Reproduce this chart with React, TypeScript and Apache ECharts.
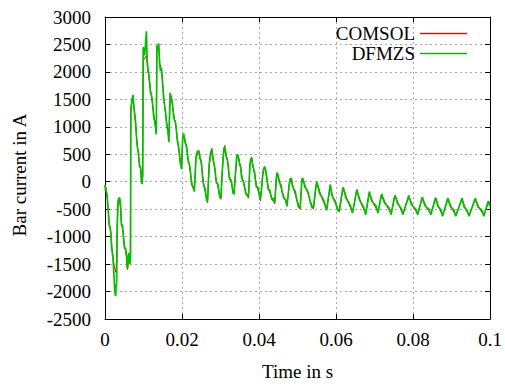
import React, { useEffect, useRef } from "react";
import * as echarts from "echarts";

// time in milliseconds
const timeMs = [
  0, 0.26, 0.85, 1.11, 1.55, 1.8, 2.32, 2.76, 3.02, 3.17,
  3.43, 3.61, 4.05, 4.3, 4.72, 5.15, 5.59, 5.85, 6.26, 6.57,
  6.7, 7.29, 7.73, 8.17, 8.58, 8.84, 9.2, 9.46, 9.79, 9.92,
  10.75, 11.16, 11.6, 12.04, 12.45, 12.89, 13.32, 13.48, 13.92, 14.18,
  14.61, 15.03, 15.46, 15.9, 16.31, 16.57, 16.93, 17.19, 17.6, 18.04,
  18.48, 18.89, 19.33, 19.77, 19.92, 20.18, 20.62, 21.06, 21.47, 21.91,
  22.35, 22.76, 23.2, 23.63, 24.36, 24.9, 25.31, 25.77, 26.19, 26.62,
  27.06, 27.73, 28.35, 28.79, 29.2, 29.64, 30.08, 30.67, 31.08, 31.78,
  32.22, 32.65, 33.07, 33.51, 34.2, 34.59, 35.23, 35.62, 36.24, 36.78,
  37.24, 37.63, 38.07, 38.66, 39.1, 39.51, 40.13, 40.39, 40.98, 41.49,
  42.09, 42.53, 42.96, 43.56, 44.07, 44.51, 44.92, 45.54, 45.95, 46.8,
  47.24, 47.86, 48.38, 48.97, 49.82, 50.67, 51.1, 51.55, 52.4, 53.27,
  54.12, 54.82, 55.23, 56.26, 57.55, 58.42, 58.58, 59.28, 60.13, 60.82,
  61.68, 62.04, 63.14, 64.25, 65.28, 65.54, 66.57, 67.7, 68.56, 68.81,
  69.85, 70.88, 71.73, 72.04, 73.2, 74.3, 75.18, 75.52, 76.55, 77.32,
  78.74, 79.05, 80.15, 81.19, 82.29, 82.6, 83.63, 84.61, 85.72, 86.06,
  86.86, 87.63, 88.92, 89.25, 90.21, 91.06, 92.6, 92.91, 93.69, 94.51,
  96.03, 96.39, 97.42, 98.35, 99.48, 99.92,
];

const comsol = [
  -70, -100, -500, -770, -970, -1190, -1500, -1650, -1500, -830,
  -340, -290, -470, -770, -950, -1190, -1370, -1600, -1310, -1400,
  1330, 1560, 1200, 840, 550, 380, 250, 20, 100, 2200,
  2300, 2000, 1810, 1560, 1360, 1090, 880, 2470, 2500, 2170,
  2050, 1740, 1380, 1150, 920, 740, 1600, 1560, 1330, 1150,
  970, 740, 480, 300, 280, 790, 820, 660, 480, 300,
  70, -110, -160, 430, 570, 380, 130, -110, -230, -380,
  300, 610, 300, 70, -50, -200, -320, 430, 660, 380,
  130, 20, -110, -230, 430, 480, 250, 70, -110, -230,
  -300, 300, 450, 200, 20, -110, -250, -350, 130, 280,
  20, -140, -230, -320, -400, 70, 130, -70, -160, -340,
  -430, -50, 70, -140, -320, -500, 20, 20, -160, -340,
  -500, -70, -50, -290, -500, -110, -90, -320, -430, -550,
  -170, -140, -380, -550, -200, -170, -410, -580, -230, -230,
  -420, -550, -270, -260, -450, -580, -290, -280, -470, -580,
  -300, -290, -480, -580, -320, -320, -490, -580, -330, -330,
  -500, -610, -340, -340, -510, -610, -340, -350, -510, -610,
  -340, -350, -510, -610, -380, -430,
];

// DFMZS sampled at the same instants as COMSOL ...
const dfmzs = [
  -60, -150, -520, -800, -950, -1250, -1700, -2085, -1850, -800,
  -320, -300, -440, -800, -930, -1220, -1350, -1580, -1300, -1450,
  1300, 1580, 1230, 820, 580, 360, 270, 0, 120, 2450,
  2740, 2050, 1780, 1590, 1330, 1110, 860, 2480, 2520, 2150,
  2080, 1710, 1400, 1120, 950, 720, 1620, 1540, 1360, 1120,
  1000, 710, 500, 280, 300, 810, 800, 680, 450, 330,
  50, -90, -180, 450, 550, 400, 100, -90, -250, -360,
  320, 590, 320, 40, -30, -220, -300, 450, 640, 400,
  100, 40, -130, -210, 450, 460, 270, 40, -90, -250,
  -280, 320, 430, 220, 0, -90, -270, -330, 150, 260,
  40, -160, -210, -340, -380, 90, 110, -50, -180, -320,
  -450, -30, 50, -120, -340, -480, 40, 0, -140, -360,
  -480, -50, -70, -270, -520, -90, -110, -300, -450, -530,
  -150, -160, -360, -570, -180, -190, -390, -600, -210, -250,
  -400, -570, -250, -280, -430, -600, -270, -300, -450, -600,
  -280, -310, -460, -600, -300, -340, -470, -600, -310, -350,
  -480, -630, -320, -360, -490, -630, -320, -370, -490, -630,
  -320, -370, -490, -630, -360, -450,
];

// ... plus its extra high-frequency ripple samples in between (ms)
const dfmzsRippleTimeMs = [
  0.13, 0.55, 0.98, 1.33, 1.68, 2.06, 2.54, 2.89, 3.1, 3.3,
  3.52, 3.83, 4.18, 4.51, 4.94, 5.37, 5.72, 6.05, 6.42, 6.64,
  7.0, 7.51, 7.95, 8.37, 8.71, 9.02, 9.33, 9.62, 9.86, 10.3,
  10.95, 11.38, 11.82, 12.25, 12.67, 13.1, 13.4, 13.7, 14.05, 14.4,
  14.82, 15.25, 15.68, 16.1, 16.44, 16.75, 17.06, 17.4, 17.82, 18.26,
  18.68, 19.11, 19.55, 19.85, 20.05, 20.4, 20.84, 21.27, 21.69, 22.13,
  22.55, 22.98, 23.42, 24.0, 24.63, 25.1, 25.54, 25.98, 26.4, 26.84,
  27.4, 28.04, 28.57, 29.0, 29.42, 29.86, 30.38, 30.88, 31.43, 32.0,
  32.44, 32.86, 33.29, 33.86, 34.4, 34.91, 35.43, 35.93, 36.51, 37.01,
  37.44, 37.85, 38.37, 38.88, 39.3, 39.82, 40.26, 40.69, 41.24, 41.79,
  42.31, 42.75, 43.26, 43.82, 44.29, 44.72, 45.23, 45.75, 46.38, 47.02,
  47.55, 48.12, 48.68, 49.4, 50.25, 50.89, 51.33, 51.98, 52.84, 53.7,
  54.47, 55.03, 55.75, 56.9, 57.99, 58.5, 58.93, 59.71, 60.48, 61.25,
  61.86, 62.59, 63.7, 64.77, 65.41, 66.06, 67.14, 68.13, 68.69, 69.33,
  70.37, 71.3, 71.89, 72.62, 73.75, 74.74, 75.35, 76.04, 76.94, 78.03,
  78.9, 79.6, 80.67, 81.74, 82.45, 83.12, 84.12, 85.17, 85.89, 86.46,
  87.25, 88.28, 89.09, 89.73, 90.64, 91.83, 92.76, 93.3, 94.1, 95.27,
  96.21, 96.91, 97.89, 98.92, 99.7,
];

const dfmzsRipple = [
  -170, -250, -720, -820, -1180, -1380, -2000, -1880, -1400, -480,
  -400, -300, -700, -780, -1150, -1220, -1550, -1350, -1500, -1350,
  1500, 1330, 1080, 640, 520, 260, 200, -40, 1500, 2300,
  2200, 1980, 1620, 1500, 1160, 1020, 1700, 2400, 2380, 2020,
  1950, 1500, 1300, 980, 880, 1200, 1500, 1480, 1180, 1100,
  800, 640, 330, 230, 600, 880, 700, 600, 340, 230,
  -50, -80, 150, 560, 420, 300, -40, -120, -340, 0,
  520, 400, 230, -40, -80, -290, 100, 600, 470, 300,
  30, 0, -220, 150, 500, 330, 100, 20, -200, -220,
  0, 420, 280, 160, -100, -120, -330, -100, 250, 190,
  -110, -140, -310, -300, -150, 170, 0, -60, -290, -340,
  -250, 60, -80, -180, -460, -250, 70, -110, -220, -460,
  -260, 0, -220, -360, -300, -50, -250, -340, -530, -340,
  -100, -300, -430, -380, -140, -330, -460, -400, -180, -360,
  -440, -410, -220, -390, -480, -430, -250, -410, -490, -440,
  -250, -420, -500, -450, -280, -440, -500, -460, -290, -450,
  -520, -480, -300, -460, -520, -480, -300, -470, -530, -480,
  -300, -470, -530, -490, -370,
];

const seriesNames = ["COMSOL", "DFMZS"];
const xTicks = { min: 0, max: 0.1, interval: 0.02 };
const yTicks = { min: -2500, max: 3000, interval: 500 };

const FONT = "'Liberation Serif', 'Times New Roman', serif";

export default function App() {
  const ref = useRef<HTMLDivElement>(null);

  useEffect(() => {
    if (!ref.current) return;
    const chart = echarts.init(ref.current, undefined, { renderer: "svg" });
    const axisLine = { show: true, onZero: false, lineStyle: { color: "#000", width: 1 } };
    const axisTick = { show: true, inside: true, length: 5, lineStyle: { color: "#000", width: 1 } };
    const splitLine = {
      show: true,
      lineStyle: { color: "#a8a8a8", width: 1, type: [2, 3] as any },
    };
    const labelStyle = { color: "#000", fontFamily: FONT, fontSize: 19 };
    const rich = { t: { ...labelStyle } };

    const comsolData = timeMs.map((t, i) => [t / 1000, comsol[i]]);
    const dfmzsData = timeMs
      .map((t, i) => [t / 1000, dfmzs[i]])
      .concat(dfmzsRippleTimeMs.map((t, i) => [t / 1000, dfmzsRipple[i]]))
      .sort((a, b) => a[0] - b[0]);

    chart.setOption({
      animation: false,
      backgroundColor: "#fff",
      textStyle: { fontFamily: FONT },
      grid: { left: 105, right: 12, top: 17, bottom: 63, containLabel: false },
      legend: {
        orient: "vertical",
        align: "right",
        right: 33,
        top: 19,
        itemGap: 1,
        itemWidth: 47,
        itemHeight: 1.5,
        itemTextGap: 14,
        icon: "rect",
        textStyle: { ...labelStyle },
        data: seriesNames,
      },
      xAxis: [
        {
          type: "value",
          position: "bottom",
          ...xTicks,
          axisLine,
          axisTick,
          splitLine,
          axisLabel: {
            ...labelStyle,
            margin: 11,
            rich,
            formatter: (v: number) => "{t|" + String(+v.toFixed(2)) + "}",
          },
          name: "Time in s",
          nameLocation: "middle",
          nameGap: 43,
          nameTextStyle: { ...labelStyle },
        },
        {
          type: "value",
          position: "top",
          ...xTicks,
          axisLine,
          axisTick,
          splitLine: { show: false },
          axisLabel: { show: false },
        },
      ],
      yAxis: [
        {
          type: "value",
          position: "left",
          ...yTicks,
          axisLine,
          axisTick,
          splitLine,
          axisLabel: {
            ...labelStyle,
            margin: 14,
            rich,
            formatter: (v: number) => "{t|" + String(v) + "}",
          },
          name: "Bar current in A",
          nameLocation: "middle",
          nameGap: 76,
          nameTextStyle: { ...labelStyle, padding: [0, 14, 0, 0] },
        },
        {
          type: "value",
          position: "right",
          ...yTicks,
          axisLine,
          axisTick,
          splitLine: { show: false },
          axisLabel: { show: false },
        },
      ],
      series: [
        {
          name: seriesNames[0],
          type: "line",
          showSymbol: false,
          symbol: "none",
          color: "#ff0000",
          lineStyle: { color: "#ff0000", width: 1 },
          data: comsolData,
        },
        {
          name: seriesNames[1],
          type: "line",
          showSymbol: false,
          symbol: "none",
          color: "#00c000",
          lineStyle: { color: "#00c000", width: 1.7 },
          data: dfmzsData,
        },
      ],
    });
    return () => chart.dispose();
  }, []);

  return (
    <div
      ref={ref}
      style={{ position: "fixed", left: 0, top: 0, width: 505, height: 386, background: "#fff" }}
    />
  );
}
